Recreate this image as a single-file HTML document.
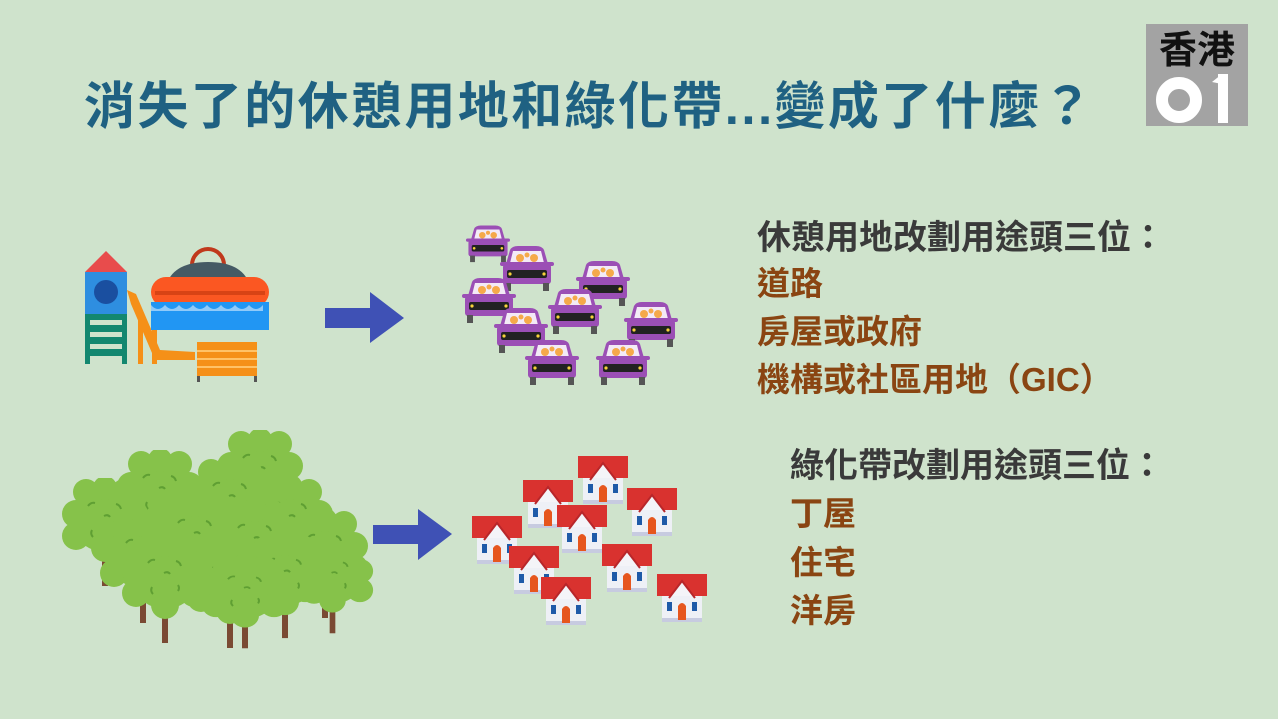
<!DOCTYPE html>
<html><head><meta charset="utf-8">
<style>
html,body{margin:0;padding:0;}
body{width:1278px;height:719px;background:#cfe3cc;position:relative;overflow:hidden;font-family:"Liberation Sans","Noto Sans CJK TC",sans-serif;}
.t{position:absolute;white-space:nowrap;font-weight:bold;}
#title{left:84px;top:76px;font-size:51px;color:#1f6182;letter-spacing:2.4px;line-height:62px;}
.h{font-size:34px;color:#3a3a3a;line-height:40px;font-weight:bold;}
.i{font-size:33px;color:#8a4512;line-height:40px;}
svg{position:absolute;left:0;top:0;}
</style></head><body>
<svg width="1278" height="719" viewBox="0 0 1278 719" xmlns:xlink="http://www.w3.org/1999/xlink">
<defs>
<symbol id="car" viewBox="0 0 54 48">
  <path d="M10 4 Q12 0 18 0 H36 Q42 0 44 4 L48 18 H6 Z" fill="#9b4fb5"/>
  <path d="M13 5 H41 L44 17 H10 Z" fill="#f3eaf6"/>
  <circle cx="20" cy="12" r="4" fill="#f5a94a"/><circle cx="27" cy="9" r="2.5" fill="#f5a94a"/><circle cx="34" cy="12" r="4" fill="#f5a94a"/>
  <rect x="0" y="16" width="54" height="4" rx="2" fill="#9b4fb5"/>
  <rect x="3" y="18" width="48" height="20" rx="3" fill="#9b4fb5"/>
  <rect x="7" y="24" width="40" height="8" rx="2" fill="#222"/>
  <circle cx="10" cy="28" r="1.6" fill="#f7d23a"/><circle cx="44" cy="28" r="1.6" fill="#f7d23a"/>
  <rect x="5" y="37" width="6" height="8" fill="#555"/><rect x="43" y="37" width="6" height="8" fill="#555"/>
</symbol>
<symbol id="house" viewBox="0 0 50 50">
  <rect x="5" y="20" width="40" height="26" fill="#eef0f6"/>
  <rect x="5" y="44" width="40" height="4" fill="#c7cbe0"/>
  <rect x="0" y="0" width="50" height="22" fill="#d9322f"/>
  <path d="M14 22 L25 8 L36 22 Z" fill="#f4f4f8"/>
  <path d="M12 24 L25 7 L38 24" fill="none" stroke="#b8262a" stroke-width="2"/>
  <rect x="10" y="28" width="5" height="9" fill="#1e5aa8"/><rect x="35" y="28" width="5" height="9" fill="#1e5aa8"/>
  <path d="M21 46 V32 Q25 26 29 32 V46 Z" fill="#e6561e"/>
</symbol>
<symbol id="tree" viewBox="0 0 90 110" preserveAspectRatio="none">
  <rect x="42" y="70" width="6" height="38" fill="#7a4a33"/>
  <g fill="#86c24a">
    <circle cx="45" cy="40" r="34"/><circle cx="16" cy="36" r="14"/><circle cx="74" cy="36" r="14"/>
    <circle cx="26" cy="14" r="13"/><circle cx="64" cy="14" r="13"/><circle cx="45" cy="10" r="12"/>
    <circle cx="16" cy="58" r="14"/><circle cx="74" cy="58" r="14"/><circle cx="45" cy="70" r="14"/>
  </g>
  <g fill="none" stroke="#5f9f33" stroke-width="2">
    <path d="M28 28 q3 -4 7 -3"/><path d="M56 26 q4 1 5 5"/><path d="M32 52 q-2 4 1 7"/><path d="M58 50 q2 3 0 6"/><path d="M44 38 q4 -2 6 1"/>
  </g>
</symbol>
</defs>
<rect x="1146" y="24" width="102" height="102" fill="#a3a3a3"/>
<text x="1197" y="63" font-size="38" font-weight="bold" text-anchor="middle" font-family="Noto Sans CJK TC, sans-serif" fill="#111">香港</text>
<circle cx="1179" cy="100" r="17" fill="none" stroke="#fff" stroke-width="12"/>
<rect x="1218" y="74" width="10" height="49" fill="#fff"/>
<path d="M1212 82 L1222 74 L1222 84 Z" fill="#fff"/>
<path d="M85 272 L106 251 L127 272 Z" fill="#e84c4c"/>
<rect x="85" y="272" width="42" height="42" fill="#2e8ee0"/>
<circle cx="106" cy="292" r="12" fill="#1a4fa0"/>
<rect x="85" y="314" width="42" height="50" fill="#13876f"/>
<g fill="#cfe3cc"><rect x="90" y="320" width="32" height="5"/><rect x="90" y="332" width="32" height="5"/><rect x="90" y="344" width="32" height="5"/><rect x="90" y="356" width="32" height="8"/></g>
<path d="M127 290 L136 294 L160 350 L195 352 L195 360 L155 360 L131 304 Z" fill="#f59018"/>
<rect x="138" y="320" width="5" height="44" fill="#f59018"/><rect x="152" y="330" width="5" height="34" fill="#f59018"/>
<path d="M192 265 a16 16 0 0 1 32 0" fill="none" stroke="#c0391c" stroke-width="4"/>
<path d="M167 283 Q175 262 208 262 Q241 262 249 283 Z" fill="#455a64"/>
<rect x="151" y="277" width="118" height="30" rx="15" fill="#fb5722"/>
<rect x="155" y="291" width="110" height="4" fill="#d84315"/>
<rect x="151" y="302" width="118" height="28" fill="#2196f3"/>
<path d="M151 305 q7 8 14 0 q7 8 14 0 q7 8 14 0 q7 8 14 0 q7 8 14 0 q7 8 14 0 q7 8 14 0 q7 8 14 0 v6 h-112 Z" fill="#90caf9"/>
<rect x="197" y="342" width="60" height="34" fill="#f59018"/>
<g fill="#ffc267"><rect x="197" y="350" width="60" height="2"/><rect x="197" y="358" width="60" height="2"/><rect x="197" y="366" width="60" height="2"/></g>
<rect x="197" y="376" width="3" height="6" fill="#555"/><rect x="254" y="376" width="3" height="6" fill="#555"/>
<path d="M325 308 H370 V292 L404 318 L370 343 V328 H325 Z" fill="#3f51b5"/>
<path d="M373 525 H418 V509 L452 534 L418 560 V544 H373 Z" fill="#3f51b5"/>
<use href="#car" xlink:href="#car" x="466" y="225" width="44" height="40"/>
<use href="#car" xlink:href="#car" x="500" y="246" width="54" height="48"/>
<use href="#car" xlink:href="#car" x="576" y="261" width="54" height="48"/>
<use href="#car" xlink:href="#car" x="462" y="278" width="54" height="48"/>
<use href="#car" xlink:href="#car" x="548" y="289" width="54" height="48"/>
<use href="#car" xlink:href="#car" x="624" y="302" width="54" height="48"/>
<use href="#car" xlink:href="#car" x="494" y="308" width="54" height="48"/>
<use href="#car" xlink:href="#car" x="525" y="340" width="54" height="48"/>
<use href="#car" xlink:href="#car" x="596" y="340" width="54" height="48"/>
<use href="#tree" x="215" y="430" width="90" height="110"/>
<use href="#tree" x="115" y="450" width="90" height="110"/>
<use href="#tree" x="185" y="458" width="90" height="110"/>
<use href="#tree" x="60" y="478" width="90" height="110"/>
<use href="#tree" x="245" y="478" width="90" height="110"/>
<use href="#tree" x="150" y="495" width="90" height="110"/>
<use href="#tree" x="210" y="500" width="90" height="110"/>
<use href="#tree" x="98" y="515" width="90" height="110"/>
<use href="#tree" x="280" y="510" width="90" height="110"/>
<use href="#tree" x="290" y="540" width="85" height="95"/>
<use href="#tree" x="120" y="535" width="90" height="110"/>
<use href="#tree" x="185" y="540" width="90" height="110"/>
<use href="#tree" x="240" y="535" width="90" height="105"/>
<use href="#tree" x="200" y="555" width="90" height="95"/>
<use href="#house" xlink:href="#house" x="578" y="456" width="50" height="50"/>
<use href="#house" xlink:href="#house" x="523" y="480" width="50" height="50"/>
<use href="#house" xlink:href="#house" x="627" y="488" width="50" height="50"/>
<use href="#house" xlink:href="#house" x="472" y="516" width="50" height="50"/>
<use href="#house" xlink:href="#house" x="557" y="505" width="50" height="50"/>
<use href="#house" xlink:href="#house" x="509" y="546" width="50" height="50"/>
<use href="#house" xlink:href="#house" x="602" y="544" width="50" height="50"/>
<use href="#house" xlink:href="#house" x="541" y="577" width="50" height="50"/>
<use href="#house" xlink:href="#house" x="657" y="574" width="50" height="50"/>
</svg>
<div class="t" id="title">消失了的休憩用地和綠化帶...變成了什麼？</div>
<div class="t h" style="left:757px;top:218px;">休憩用地改劃用途頭三位：</div>
<div class="t i" style="left:757px;top:264px;">道路</div>
<div class="t i" style="left:757px;top:312px;">房屋或政府</div>
<div class="t i" style="left:757px;top:360px;">機構或社區用地（GIC）</div>
<div class="t h" style="left:790px;top:446px;">綠化帶改劃用途頭三位：</div>
<div class="t i" style="left:790px;top:494px;">丁屋</div>
<div class="t i" style="left:790px;top:543px;">住宅</div>
<div class="t i" style="left:790px;top:591px;">洋房</div>
</body></html>
